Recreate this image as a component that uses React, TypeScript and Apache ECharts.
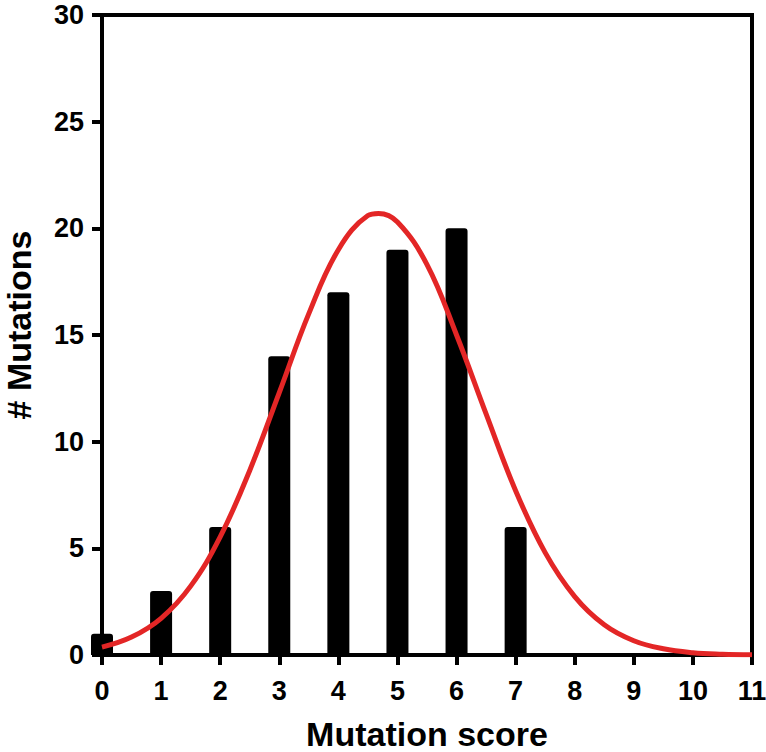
import React, { useEffect, useRef } from "react";
import * as echarts from "echarts";

const scores = [0, 1, 2, 3, 4, 5, 6, 7];
const counts = [1, 3, 6, 14, 17, 19, 20, 6];
const curveX = [0, 0.5, 1, 1.5, 2, 2.5, 3, 3.5, 4, 4.5, 4.68, 5, 5.5, 6, 6.5, 7, 7.5, 8, 8.5, 9, 9.5, 10, 10.5, 11];
const curveY = [0.37, 0.84, 1.72, 3.23, 5.54, 8.65, 12.3, 16.0, 19.0, 20.6, 20.7, 20.3, 18.3, 15.0, 11.3, 7.7, 4.8, 2.74, 1.42, 0.67, 0.29, 0.11, 0.04, 0.01];
const yTicks = [0, 5, 10, 15, 20, 25, 30];
const xTicks = [0, 1, 2, 3, 4, 5, 6, 7, 8, 9, 10, 11];

export default function App() {
  const ref = useRef<HTMLDivElement>(null);
  useEffect(() => {
    document.body.style.margin = "0";
    const chart = echarts.init(ref.current!, null, { renderer: "svg" });
    const font = "'Liberation Sans', Arial, sans-serif";
    chart.setOption({
      animation: false,
      grid: {
        left: 102,
        right: 14,
        top: 15,
        bottom: 97,
        containLabel: false,
        outerBoundsMode: "none",
        show: true,
        borderColor: "#000",
        borderWidth: 4,
      },
      xAxis: {
        type: "value",
        min: xTicks[0],
        max: xTicks[xTicks.length - 1],
        interval: 1,
        name: "Mutation score",
        nameLocation: "middle",
        nameGap: 62,
        nameTextStyle: { fontFamily: font, fontWeight: "bold", fontSize: 34, color: "#000" },
        axisLine: { show: true, lineStyle: { color: "#000", width: 4 } },
        axisTick: { show: true, length: 10, lineStyle: { color: "#000", width: 4 } },
        axisLabel: { margin: 22, fontFamily: font, fontWeight: "bold", fontSize: 27, color: "#000" },
        splitLine: { show: false },
      },
      yAxis: {
        type: "value",
        min: yTicks[0],
        max: yTicks[yTicks.length - 1],
        interval: 5,
        name: "# Mutations",
        nameLocation: "middle",
        nameGap: 66,
        nameRotate: 90,
        nameTextStyle: { fontFamily: font, fontWeight: "bold", fontSize: 34, color: "#000", padding: [0, 0, 0, 20] },
        axisLine: { show: true, lineStyle: { color: "#000", width: 4 } },
        axisTick: { show: true, length: 10, lineStyle: { color: "#000", width: 4 } },
        axisLabel: { margin: 18, fontFamily: font, fontWeight: "bold", fontSize: 27, color: "#000" },
        splitLine: { show: false },
      },
      series: [
        {
          type: "bar",
          data: scores.map((s, i) => [s, counts[i]]),
          barWidth: 22,
          clip: false,
          itemStyle: { color: "#000", borderRadius: [3, 3, 0, 0] },
          z: 2,
        },
        {
          type: "line",
          data: curveX.map((x, i) => [x, curveY[i]]),
          smooth: 0.4,
          showSymbol: false,
          symbol: "none",
          lineStyle: { color: "#e32626", width: 5 },
          z: 3,
        },
      ],
    });
    return () => chart.dispose();
  }, []);
  return <div ref={ref} style={{ width: 766, height: 752 }} />;
}
